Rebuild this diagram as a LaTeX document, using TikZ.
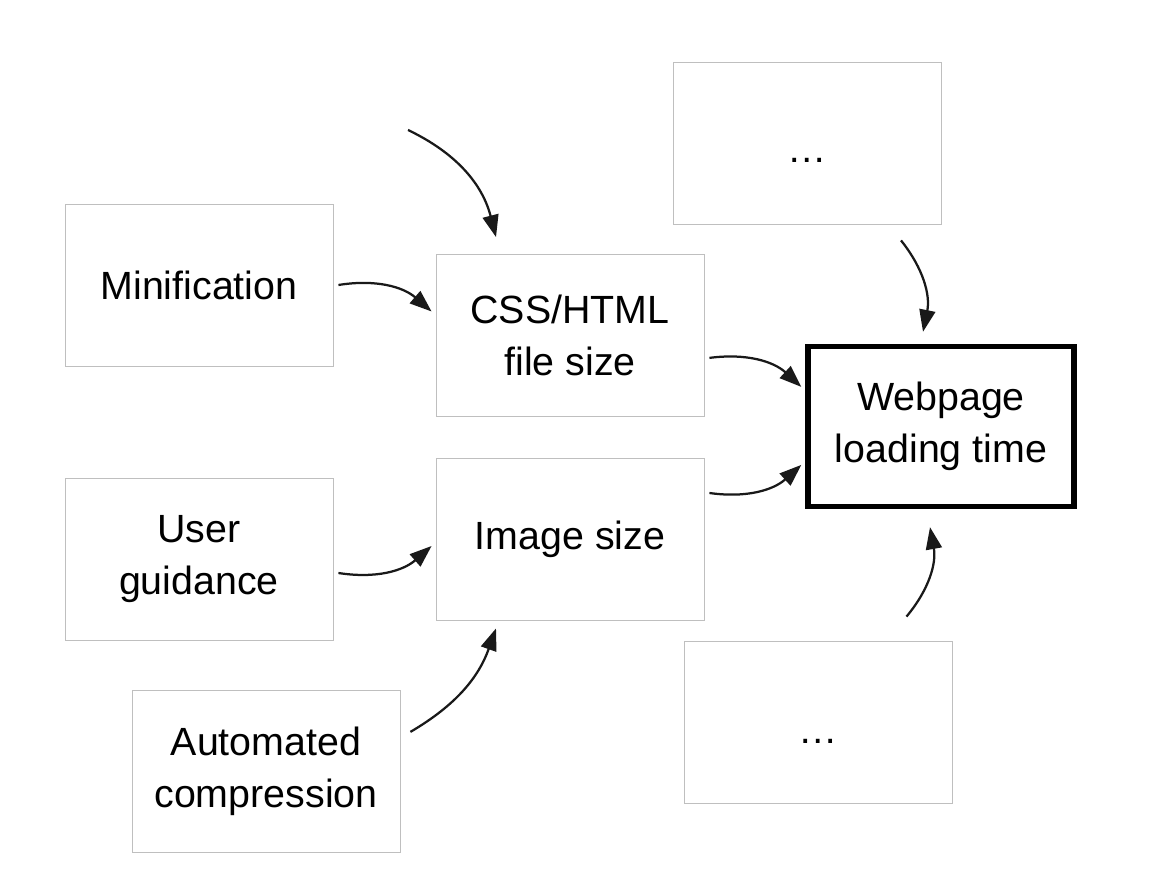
\documentclass[tikz,border=0pt]{standalone}
\usepackage{fontspec}
\setmainfont{Liberation Sans}
\usetikzlibrary{arrows.meta}
\tikzset{box/.style = {draw=black!25, line width=0.6pt, minimum width=6.7cm, minimum height=4.05cm, align=center, font=\fontsize{28}{37}\selectfont},
  mainbox/.style = {box, draw=black, line width=3.8pt, minimum width=6.65cm, minimum height=4cm},
  arr/.style = {-{Triangle[length=0.55cm, width=0.4cm]}, line width=1.6pt, black!90}}

\begin{document}
\begin{tikzpicture}
\useasboundingbox (0,0) rectangle (28.9,21.85);
\node [box] (top) at (20.175,18.275) {\smash{\raisebox{-0.5cm}{…}}};
\node [box] (minif) at (4.975,14.725) {Minification};
\node [box] (css) at (14.25,13.4625) {CSS/HTML\\file size};
\node [mainbox] (web) at (23.525,11.1875) {Webpage\\loading time};
\node [box] (user) at (4.975,7.875) {User\\guidance};
\node [box] (image) at (14.25,8.375) {Image size};
\node [box] (auto) at (6.65,2.5625) {Automated\\compression};
\node [box] (bottom) at (20.4625,3.8) {\smash{\raisebox{-0.53cm}{…}}};
\coordinate (free) at (10.2,18.6);
\draw [arr] (free) to [bend left=25] ([xshift=-1.85cm, yshift=0.425cm]css.north);
\draw [arr] ([xshift=0.125cm]minif.east) to [bend left=25] ([xshift=-0.1cm, yshift=0.6cm]css.west);
\draw [arr] ([xshift=0.125cm, yshift=-0.56cm]css.east) to [bend left=25] ([xshift=-0.1cm, yshift=0.99cm]web.west);
\draw [arr] ([xshift=0.125cm, yshift=1.15cm]image.east) to [bend right=25] ([xshift=-0.1cm, yshift=-0.96cm]web.west);
\draw [arr] ([xshift=0.125cm, yshift=-0.35cm]user.east) to [bend right=25] ([xshift=-0.1cm, yshift=-0.175cm]image.west);
\draw [arr] ([xshift=0.25cm, yshift=0.99cm]auto.east) to [bend right=20] ([xshift=-1.85cm, yshift=-0.2cm]image.south);
\draw [arr] ([xshift=2.35cm, yshift=-0.4cm]top.south) to [bend left=25] ([xshift=-0.45cm, yshift=0.3cm]web.north);
\draw [arr] ([xshift=2.2cm, yshift=0.6cm]bottom.north) to [bend right=25] ([xshift=-0.275cm, yshift=-0.45cm]web.south);
\end{tikzpicture}
\end{document}
